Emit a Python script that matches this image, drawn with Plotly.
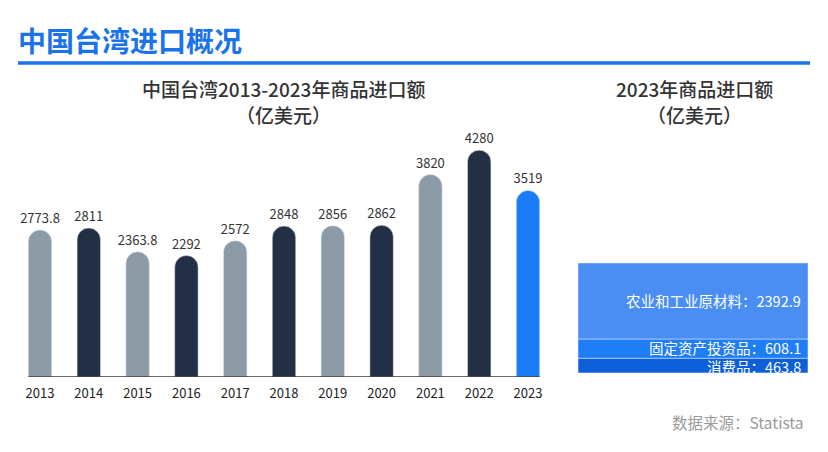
import plotly.graph_objects as go

# the page puts the figure 8px in from the top-left corner
OFF = 8
W, H = 812, 436

years = ["2013", "2014", "2015", "2016", "2017", "2018", "2019", "2020", "2021", "2022", "2023"]
imports = [2773.8, 2811, 2363.8, 2292, 2572, 2848, 2856, 2862, 3820, 4280, 3519]
bar_colors = ["#8c9ba6", "#232f45", "#8c9ba6", "#232f45", "#8c9ba6", "#232f45",
              "#8c9ba6", "#232f45", "#8c9ba6", "#232f45", "#1a7cf6"]

cat_names = ["消费品", "固定资产投资品", "农业和工业原材料"]
cat_values = [463.8, 608.1, 2392.9]
cat_colors = ["#0c5fd8", "#1f7ef5", "#4a8ef3"]

FONT = "Noto Sans CJK SC"


def py(p):
    return 1 - (p - OFF) / H


def px_(p):
    return (p - OFF) / W


fig = go.Figure()

fig.add_trace(go.Bar(
    x=years, y=imports,
    marker=dict(color=bar_colors, cornerradius=12),
    width=0.48,
    text=[f"{v:g}" for v in imports],
    textposition="outside",
    constraintext="none",
    textfont=dict(size=13, color="#333333", family=FONT),
    cliponaxis=False,
    showlegend=False,
    hoverinfo="skip",
    xaxis="x", yaxis="y",
))

total = 0
shifts = [-1, 1, 0]
for name, val, col, sh in zip(cat_names, cat_values, cat_colors, shifts):
    fig.add_trace(go.Bar(
        x=["2023"], y=[val], base=[total],
        marker=dict(color=col, line=dict(color="#a9c9f7", width=0.8)),
        width=1,
        showlegend=False,
        hoverinfo="skip",
        xaxis="x2", yaxis="y2",
    ))
    fig.add_annotation(
        x=0.48, y=total + val / 2, xref="x2", yref="y2", yshift=sh,
        text=f"{name}：{val}", showarrow=False, xanchor="right", yanchor="middle",
        font=dict(size=14.5, color="white", family=FONT),
    )
    total += val

fig.update_layout(
    width=W, height=H,
    margin=dict(l=0, r=0, t=0, b=0),
    paper_bgcolor="white", plot_bgcolor="white",
    font=dict(family=FONT),
    barmode="overlay",
    xaxis=dict(domain=[px_(15.6), px_(552.4)], showgrid=False, showline=False,
               ticks="", ticklabelstandoff=7,
               tickfont=dict(size=13, color="#222222", family=FONT),
               fixedrange=True),
    yaxis=dict(domain=[py(377), py(138.5)], range=[0, 4500], visible=False, fixedrange=True),
    xaxis2=dict(domain=[px_(578), px_(808)], range=[-0.5, 0.5], visible=False,
                anchor="y2", fixedrange=True),
    yaxis2=dict(domain=[py(373), py(263)], range=[0, total], visible=False,
                anchor="x2", fixedrange=True),
)

# baseline of the bar chart
fig.add_shape(type="line", xref="x", yref="y", x0=-0.24, x1=10.24, y0=0, y1=0,
              line=dict(color="#3a3a3a", width=1.5))

# header line
fig.add_shape(type="line", xref="paper", yref="paper", x0=px_(18), x1=px_(810),
              y0=py(63), y1=py(63), line=dict(color="#1a73e8", width=3.5))

fig.add_annotation(x=px_(16), y=py(40), xref="paper", yref="paper",
                   text="<b>中国台湾进口概况</b>", showarrow=False,
                   xanchor="left", yanchor="middle",
                   font=dict(size=28, color="#1a73e8", family=FONT))

for cx, line1 in [(283, "中国台湾2013-2023年商品进口额"), (694, "2023年商品进口额")]:
    fig.add_annotation(x=px_(cx), y=py(88), xref="paper", yref="paper",
                       text=line1, showarrow=False, xanchor="center", yanchor="middle",
                       font=dict(size=19, color="#333333", family=FONT, weight=500))
    fig.add_annotation(x=px_(cx), y=py(114), xref="paper", yref="paper",
                       text="（亿美元）", showarrow=False, xanchor="center", yanchor="middle",
                       font=dict(size=19, color="#333333", family=FONT, weight=500))

fig.add_annotation(x=px_(806), y=py(422), xref="paper", yref="paper",
                   text="数据来源：Statista", showarrow=False,
                   xanchor="right", yanchor="middle",
                   font=dict(size=15.5, color="#9a9a9a", family=FONT))

fig.write_html("out.html")
